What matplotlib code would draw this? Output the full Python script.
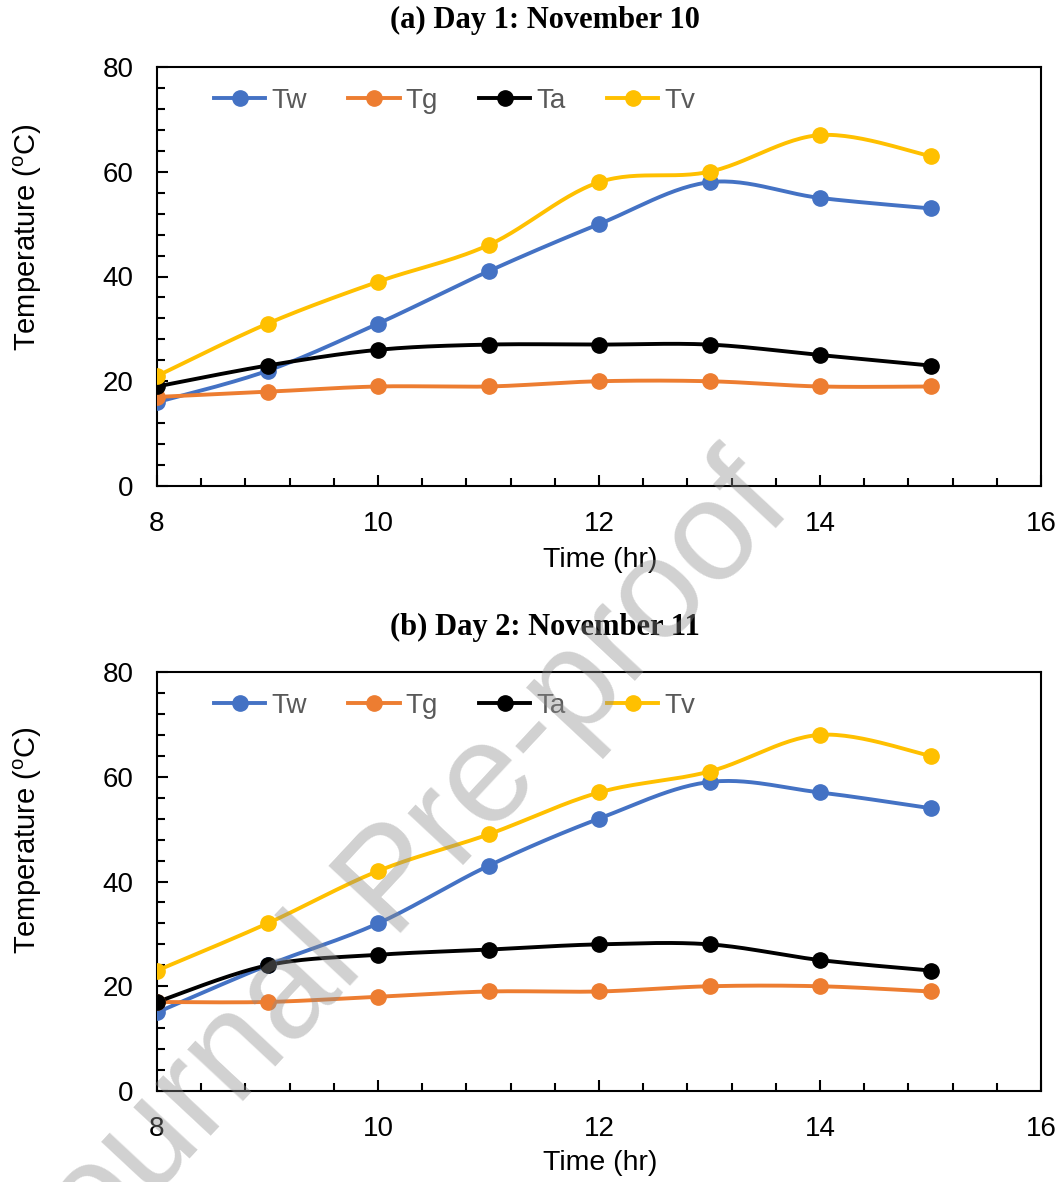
import numpy as np
import matplotlib
matplotlib.use("Agg")
import matplotlib.pyplot as plt
from matplotlib.ticker import MultipleLocator

plt.rcParams['font.family'] = ['Liberation Sans', 'DejaVu Sans']

# ---------------- data ----------------
hours = [8, 9, 10, 11, 12, 13, 14, 15]

day1_Tw = [16, 22, 31, 41, 50, 58, 55, 53]
day1_Tg = [17, 18, 19, 19, 20, 20, 19, 19]
day1_Ta = [19, 23, 26, 27, 27, 27, 25, 23]
day1_Tv = [21, 31, 39, 46, 58, 60, 67, 63]

day2_Tw = [15, 24, 32, 43, 52, 59, 57, 54]
day2_Tg = [17, 17, 18, 19, 19, 20, 20, 19]
day2_Ta = [17, 24, 26, 27, 28, 28, 25, 23]
day2_Tv = [23, 32, 42, 49, 57, 61, 68, 64]

series_names = ['Tw', 'Tg', 'Ta', 'Tv']
series_colors = ['#4472C4', '#ED7D31', '#000000', '#FFC000']
titles = ['(a) Day 1: November 10', '(b) Day 2: November 11']


def smooth(xs, ys, n=30):
    """Excel-like smoothed line (Catmull-Rom Bezier through the points)."""
    P = np.column_stack([xs, ys]).astype(float)
    Pe = np.vstack([P[0], P, P[-1]])
    out = []
    t = np.linspace(0, 1, n)[:, None]
    for i in range(len(P) - 1):
        p0 = Pe[i + 1]
        p3 = Pe[i + 2]
        c1 = p0 + (Pe[i + 2] - Pe[i]) / 6.0
        c2 = p3 - (Pe[i + 3] - Pe[i + 1]) / 6.0
        seg = ((1 - t) ** 3) * p0 + 3 * ((1 - t) ** 2) * t * c1 + 3 * (1 - t) * t ** 2 * c2 + t ** 3 * p3
        out.append(seg if i == 0 else seg[1:])
    seg = np.vstack(out)
    return seg[:, 0], seg[:, 1]


W, H = 1061, 1182
fig = plt.figure(figsize=(W / 100, H / 100), dpi=100)

axes_px = [(157, 1041, 67, 486), (157, 1041, 672, 1091)]
title_y = [20, 627]
xlabel_y = [560, 1163]
ylabel_y = [237, 840]
data = [[day1_Tw, day1_Tg, day1_Ta, day1_Tv], [day2_Tw, day2_Tg, day2_Ta, day2_Tv]]

for k in range(2):
    l, r, t, b = axes_px[k]
    ax = fig.add_axes([l / W, 1 - b / H, (r - l) / W, (b - t) / H])
    handles = []
    for name, col, ys in zip(series_names, series_colors, data[k]):
        sx, sy = smooth(hours, ys)
        ax.plot(sx, sy, color=col, lw=2.8, solid_capstyle='round', zorder=2)
        ax.plot(hours, ys, 'o', color=col, ms=11, zorder=3)
        h, = ax.plot([], [], color=col, lw=2.8, marker='o', ms=11, label=name)
        handles.append(h)
    ax.set_xlim(8, 16)
    ax.set_ylim(0, 80)
    ax.xaxis.set_major_locator(MultipleLocator(2))
    ax.xaxis.set_minor_locator(MultipleLocator(0.4))
    ax.yaxis.set_major_locator(MultipleLocator(20))
    ax.yaxis.set_minor_locator(MultipleLocator(4))
    ax.tick_params(which='both', direction='in', top=False, right=False,
                   width=1.5, labelsize=20)
    ax.tick_params(which='major', length=8)
    ax.tick_params(axis='x', which='major', pad=18)
    ax.tick_params(axis='y', which='major', pad=17)
    ax.tick_params(which='minor', length=6)
    for s in ax.spines.values():
        s.set_linewidth(1.5)
    ax.set_xlabel('Time (hr)', fontsize=20.5)
    ax.xaxis.set_label_coords((600 - l) / (r - l), (b - xlabel_y[k]) / (b - t))
    ax.xaxis.label.set_va('center')
    ax.set_ylabel('Temperature ($^{\\mathregular{o}}$C)', fontsize=21)
    ax.yaxis.set_label_coords((28 - l) / (r - l), (b - ylabel_y[k]) / (b - t))
    ax.yaxis.label.set_va('center')
    leg = ax.legend(handles=handles, ncol=4, loc='center left',
                    bbox_to_anchor=((214 - l) / (r - l), (b - (t + 34)) / (b - t)),
                    frameon=False, fontsize=20, handlelength=1.85,
                    handletextpad=0.2, columnspacing=1.5, borderpad=0,
                    borderaxespad=0)
    for txt in leg.get_texts():
        txt.set_color('#595959')
    fig.text(545 / W, 1 - title_y[k] / H, titles[k], ha='center', va='center',
             fontsize=22, fontweight='bold', family=['Liberation Serif', 'DejaVu Serif'])

# watermark
fig.text(395 / W, 1 - 884 / H, 'Journal Pre-proof', rotation=47, ha='center', va='center',
         fontsize=102, color='#8c8c8c', alpha=0.4, zorder=10)

fig.savefig('out.png', dpi=100)
